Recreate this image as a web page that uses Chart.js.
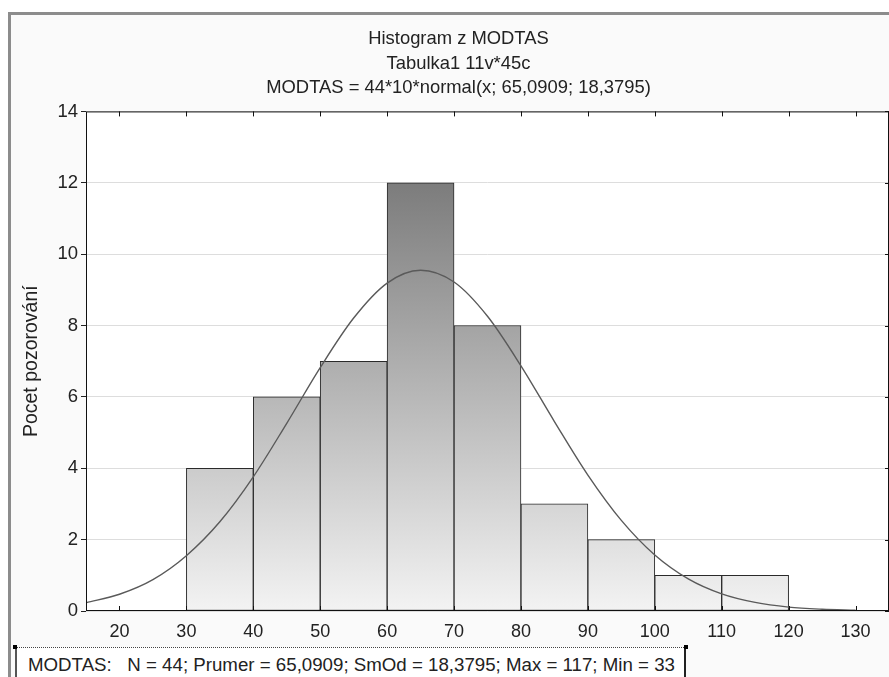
<!DOCTYPE html>
<html>
<head>
<meta charset="utf-8">
<script src="https://cdn.jsdelivr.net/npm/chart.js@4"></script>
<style>
    html, body { margin: 0; padding: 0; background: #ffffff; }
    #wrap { position: relative; width: 889px; height: 677px; overflow: hidden; }
    #frame {
        position: absolute; left: 8px; top: 12px; width: 900px; height: 700px;
        border-left: 3px solid #8c8c8c; border-top: 3px solid #8c8c8c;
        background: #fafafa;
    }
    #chart { position: absolute; left: 0; top: 0; }
    #stats {
        position: absolute; left: 15px; top: 647px; width: 671px; height: 40px;
        border-top: 1px dotted #444; border-left: 2px solid #555; border-right: 2px solid #222;
        background: #ffffff;
        font-family: "Liberation Sans", Arial, sans-serif; font-size: 18.7px; color: #222;
        white-space: pre; padding: 6px 0 0 11px; box-sizing: border-box;
    }
    .handle { position: absolute; width: 4px; height: 4px; background: #000; top: 645px; }
</style>
</head>
<body>
<div id="wrap">
    <div id="frame"></div>
    <canvas id="chart" width="889" height="677"></canvas>
    <div id="stats">MODTAS:   N = 44; Prumer = 65,0909; SmOd = 18,3795; Max = 117; Min = 33</div>
    <div class="handle" style="left:13px"></div>
    <div class="handle" style="left:684px"></div>
</div>
<script>
// 直方图数据 (读自图片)
const binCenters = [35, 45, 55, 65, 75, 85, 95, 105, 115];
const binCounts = [4, 6, 7, 12, 8, 3, 2, 1, 1];

// 正态曲线 (从图上读出的点)
const curveX = [15, 20, 25, 30, 35, 40, 45, 50, 55, 60, 65, 70, 75, 80, 85, 90, 95, 100, 105, 110, 115, 120, 125, 130];
const curveY = [0.23, 0.47, 0.88, 1.55, 2.5, 3.76, 5.26, 6.82, 8.21, 9.19, 9.55, 9.22, 8.26, 6.87, 5.31, 3.81, 2.54, 1.57, 0.9, 0.48, 0.24, 0.11, 0.05, 0.02];

// 坐标轴刻度
const xTicks = [20, 30, 40, 50, 60, 70, 80, 90, 100, 110, 120, 130];
const yTicks = [0, 2, 4, 6, 8, 10, 12, 14];

const FONT = '"Liberation Sans", Arial, sans-serif';

// 柱子的渐变 (按整个图区高度)
function barGradient(context) {
    const chart = context.chart;
    const area = chart.chartArea;
    if (!area) return '#bbbbbb';
    const y = chart.scales.y;
    const g = chart.ctx.createLinearGradient(0, y.getPixelForValue(12), 0, y.getPixelForValue(0));
    g.addColorStop(0, '#7c7c7c');
    g.addColorStop(1, '#f3f3f3');
    return g;
}

// 画框线和向内的刻度
const frameTicks = {
    id: 'frameTicks',
    beforeDraw(chart) {
        const { ctx, chartArea: a } = chart;
        ctx.save();
        ctx.fillStyle = '#ffffff';
        ctx.fillRect(a.left, a.top, a.width, a.height);
        ctx.restore();
    },
    afterDraw(chart) {
        const { ctx, chartArea: a, scales } = chart;
        ctx.save();
        ctx.strokeStyle = '#111';
        ctx.lineWidth = 1;
        ctx.strokeRect(a.left + 0.5, a.top + 0.5, a.width - 1, a.height - 1);
        ctx.beginPath();
        xTicks.forEach(v => {
            const px = Math.round(scales.x.getPixelForValue(v)) + 0.5;
            ctx.moveTo(px, a.top);
            ctx.lineTo(px, a.top + 5);
            ctx.moveTo(px, a.bottom);
            ctx.lineTo(px, a.bottom - 5);
        });
        yTicks.forEach(v => {
            const py = Math.round(scales.y.getPixelForValue(v)) + 0.5;
            ctx.moveTo(a.right, py);
            ctx.lineTo(a.right - 4, py);
        });
        ctx.stroke();
        ctx.restore();
    }
};

const ctx = document.getElementById('chart').getContext('2d');
new Chart(ctx, {
    data: {
        datasets: [
            {
                type: 'line',
                label: 'normal',
                data: curveX.map((x, i) => ({ x: x, y: curveY[i] })),
                borderColor: '#5a5a5a',
                borderWidth: 1.4,
                pointRadius: 0,
                fill: false,
                cubicInterpolationMode: 'monotone',
                order: 0
            },
            {
                type: 'bar',
                label: 'MODTAS',
                data: binCenters.map((x, i) => ({ x: x, y: binCounts[i] })),
                backgroundColor: barGradient,
                borderColor: '#2a2a2a',
                borderWidth: 1,
                borderSkipped: false,
                barPercentage: 1,
                categoryPercentage: 1,
                order: 1
            }
        ]
    },
    options: {
        responsive: false,
        animation: false,
        // 左边留 28，让标题中心落在 ~458
        layout: { padding: { left: 28, right: 0, top: 0, bottom: 40 } },
        plugins: {
            legend: { display: false },
            tooltip: { enabled: false },
            title: {
                display: true,
                text: ['Histogram z MODTAS', 'Tabulka1 11v*45c', 'MODTAS = 44*10*normal(x; 65,0909; 18,3795)'],
                color: '#222',
                font: { family: FONT, size: 18.4, weight: 'normal', lineHeight: 1.33 },
                padding: { top: 27, bottom: 11 }
            }
        },
        scales: {
            x: {
                type: 'linear',
                offset: false,
                min: 15,
                max: 135,
                afterBuildTicks: s => { s.ticks = xTicks.map(v => ({ value: v })); },
                afterFit: s => { s.height = 26; },
                grid: { display: false, drawTicks: false, offset: false },
                border: { display: false },
                ticks: { color: '#222', font: { family: FONT, size: 18 }, padding: 10 },
            },
            y: {
                min: 0,
                max: 14,
                afterBuildTicks: s => { s.ticks = yTicks.map(v => ({ value: v })); },
                afterFit: s => { s.width = 58; },
                grid: { color: '#dddddd', tickColor: '#222', tickLength: 5 },
                border: { display: false },
                ticks: { color: '#222', font: { family: FONT, size: 18.5 }, padding: 3 },
                title: {
                    display: true,
                    text: 'Pocet pozorování',
                    color: '#222',
                    font: { family: FONT, size: 19.5 },
                    padding: { top: -8, bottom: 0 }
                }
            }
        }
    },
    plugins: [frameTicks]
});
</script>
</body>
</html>
